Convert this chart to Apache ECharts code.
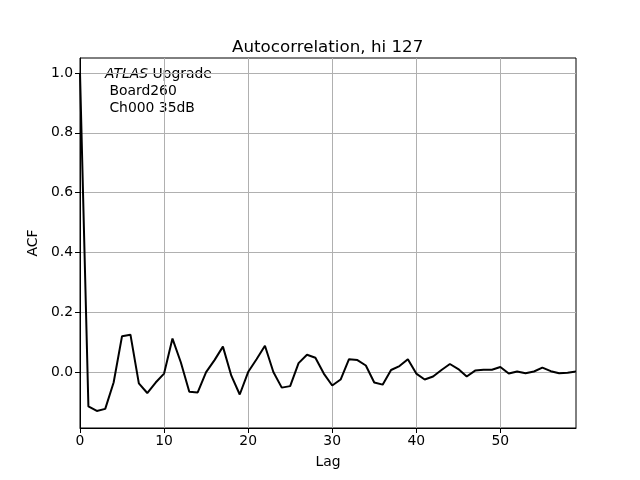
<!DOCTYPE html>
<html>
<head>
<meta charset="utf-8">
<script src="https://cdn.jsdelivr.net/npm/echarts@6/dist/echarts.min.js"></script>
<style>html,body{margin:0;padding:0;background:#fff}#c{width:640px;height:480px}</style>
</head>
<body>
<div id="c"></div>
<script>
const lags = [];
for (let i = 0; i <= 59; i++) lags.push(i);
const acf = [1.0, -0.115, -0.13, -0.123, -0.035, 0.12, 0.125, -0.038, -0.07, -0.035,
  -0.005, 0.112, 0.032, -0.066, -0.068, 0.0, 0.04, 0.085, -0.012, -0.075,
  0.0, 0.043, 0.088, 0.0, -0.052, -0.047, 0.03, 0.058, 0.048, -0.005,
  -0.045, -0.025, 0.043, 0.04, 0.022, -0.035, -0.042, 0.007, 0.02, 0.043,
  -0.005, -0.025, -0.015, 0.007, 0.027, 0.01, -0.015, 0.005, 0.008, 0.008,
  0.017, -0.005, 0.002, -0.004, 0.002, 0.015, 0.003, -0.004, -0.002, 0.002];
const yTicks = [0, 0.2, 0.4, 0.6, 0.8, 1.0];
const xTicks = [0, 10, 20, 30, 40, 50];
const titleText = 'Autocorrelation, hi 127';

const chart = echarts.init(document.getElementById('c'), null, {renderer: 'canvas'});
const font = 'DejaVu Sans';
const fs = 13.9;
chart.setOption({
  animation: false,
  backgroundColor: '#fff',
  title: {
    text: titleText, left: 227, top: 34,
    textStyle: {fontFamily: font, fontSize: 16.7, fontWeight: 'normal', color: '#000'}
  },
  grid: {left: 80, right: 64, top: 58, bottom: 52, show: true, borderColor: '#000', borderWidth: 1, backgroundColor: 'transparent'},
  xAxis: {
    type: 'value', min: 0, max: 59,
    name: 'Lag', nameLocation: 'middle', nameGap: 27,
    nameTextStyle: {fontFamily: font, fontSize: fs, color: '#000'},
    axisLine: {show: true, onZero: false, lineStyle: {color: '#000', width: 1}},
    axisTick: {show: true, length: 5, lineStyle: {color: '#000'}, customValues: xTicks},
    axisLabel: {fontFamily: font, fontSize: fs, color: '#000', margin: 6, customValues: xTicks},
    splitLine: {show: true, lineStyle: {color: '#b0b0b0', width: 1}}
  },
  yAxis: {
    type: 'value', min: -0.187, max: 1.05,
    name: 'ACF', nameLocation: 'middle', nameGap: 38, nameRotate: 90,
    nameTextStyle: {fontFamily: font, fontSize: fs, color: '#000'},
    axisLine: {show: true, onZero: false, lineStyle: {color: '#000', width: 1}},
    axisTick: {show: true, length: 5, lineStyle: {color: '#000'}, customValues: yTicks},
    axisLabel: {fontFamily: font, fontSize: fs, color: '#000', margin: 7, customValues: yTicks,
      formatter: v => v.toFixed(1)},
    splitLine: {show: true, lineStyle: {color: '#b0b0b0', width: 1}}
  },
  graphic: [{
    type: 'text', left: 105, top: 66,
    style: {
      text: '{i|ATLAS} Upgrade\n Board260\n Ch000 35dB',
      fontFamily: font, fontSize: fs, fill: '#000', lineHeight: 17,
      rich: {i: {fontStyle: 'italic', fontFamily: font, fontSize: fs, lineHeight: 17}}
    }
  }],
  series: [{
    type: 'line', data: lags.map((l, i) => [l, acf[i]]),
    showSymbol: false, symbol: 'none',
    lineStyle: {color: '#000', width: 2},
    clip: true
  }]
});
</script>
</body>
</html>
